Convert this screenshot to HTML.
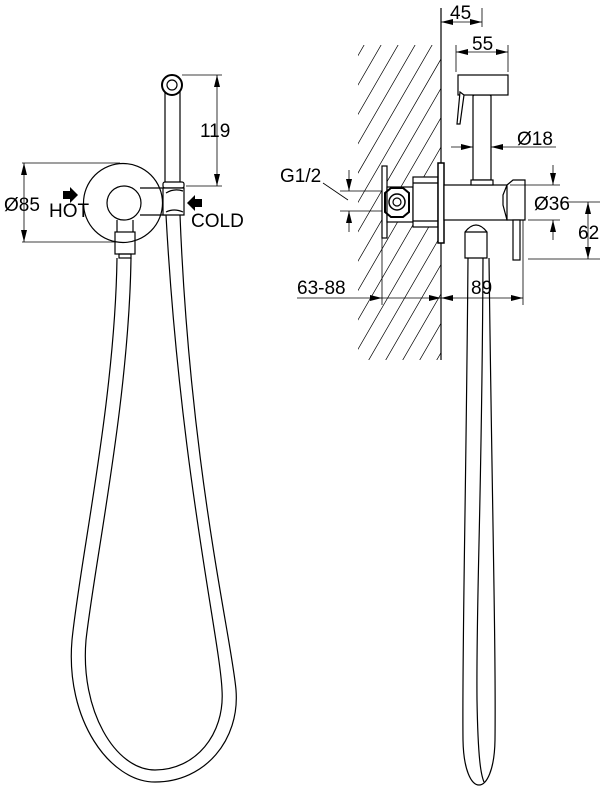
<!DOCTYPE html>
<html><head><meta charset="utf-8"><style>
html,body{margin:0;padding:0;background:#fff}
svg{display:block}
text{font-family:"Liberation Sans",sans-serif;font-size:19px;fill:#000}
</style></head><body>
<svg width="604" height="793" viewBox="0 0 604 793" xmlns="http://www.w3.org/2000/svg">
<defs>
<marker id="a" viewBox="0 0 12 6" refX="12" refY="3" markerWidth="12" markerHeight="6" markerUnits="userSpaceOnUse" orient="auto-start-reverse"><path d="M0,0 L12,3 L0,6z" fill="#000"/></marker>
<clipPath id="wall"><rect x="358" y="45" width="83" height="315"/></clipPath>
</defs>
<g fill="none" stroke="#000" stroke-width="1.2">
<circle cx="123" cy="203" r="39.5" fill="#fff"/>
<path d="M140,188 H165 M140,215 H165"/>
<circle cx="124" cy="203" r="17" fill="#fff"/>
<rect x="165" y="85" width="15" height="98" fill="#fff"/>
<circle cx="172" cy="85" r="10" fill="#fff" stroke-width="2"/>
<circle cx="172" cy="85" r="5"/>
<rect x="163" y="182" width="21" height="6" rx="2" fill="#fff"/>
<path d="M163,188 H184 V215 H163 Z" fill="#fff"/>
<path d="M166,193 Q174,188 183,191 M166,212 Q174,208 183,212"/>
<path d="M117,220 V232 M133,220 V232"/>
<rect x="115" y="232" width="20" height="22"/>
<rect x="119" y="254" width="12" height="4"/>
<path d="M117,258 C115,400 80,560 72,640 C65,720 110,782 155,782 C205,782 240,740 236,690 C232,640 190,470 180,215"/>
<path d="M131,258 C129,400 95,560 86,640 C80,710 115,770 155,770 C195,770 225,735 222,690 C220,640 180,470 166,215"/>
<g stroke-width="0.8">
<path d="M22,163 H120 M22,242 H118"/>
<path d="M24,163 V242" marker-start="url(#a)" marker-end="url(#a)"/>
<path d="M182,75 H222 M186,186 H222"/>
<path d="M217,75 V186" marker-start="url(#a)" marker-end="url(#a)"/>
</g>
<g clip-path="url(#wall)" stroke-width="0.7">
<path d="M300,420 L520,40 M317,420 L537,40 M334,420 L554,40 M351,420 L571,40 M368,420 L588,40 M385,420 L605,40 M402,420 L622,40 M419,420 L639,40 M436,420 L656,40 M453,420 L673,40 M470,420 L690,40 M487,420 L707,40 M504,420 L724,40 M283,420 L503,40 M266,420 L486,40 M249,420 L469,40 M232,420 L452,40 M215,420 L435,40 M198,420 L418,40 M181,420 L401,40 M164,420 L384,40 M147,420 L367,40 M130,420 L350,40 M113,420 L333,40 M96,420 L316,40"/>
</g>
<path d="M441,8 V360"/>
<rect x="382" y="166" width="5" height="72" fill="#fff"/>
<rect x="387" y="187" width="26" height="35" fill="#fff"/>
<path d="M385,193 L391,188 L403,188 L409,193 V212 L403,217 L391,217 L385,212 Z" stroke-width="2"/>
<circle cx="397" cy="202" r="8" stroke-width="1.5"/>
<circle cx="397" cy="202" r="4"/>
<rect x="413" y="177" width="25" height="50" fill="#fff"/>
<path d="M413,183 H438 M413,221 H438"/>
<rect x="438" y="163" width="6" height="80" fill="#fff" stroke-width="1.5"/>
<rect x="444" y="185" width="63" height="35" fill="#fff"/>
<path d="M507,185 L513,180 H525 V220 H507 Z M507,185 L503,195 V205 L507,220" fill="#fff"/>
<rect x="513" y="220" width="7" height="40" fill="#fff"/>
<path d="M465,258 V232 Q476,218 487,232 V258 Z" fill="#fff"/>
<path d="M465,232 H487"/>
<rect x="473" y="95" width="18" height="85" fill="#fff"/>
<path d="M473,96 Q482,86 491,96"/>
<rect x="471" y="180" width="22" height="5" fill="#fff"/>
<rect x="458" y="75" width="50" height="20" fill="#fff"/>
<path d="M460,92 L464,95 L460,124 L457,124 Z" fill="#fff"/>
<path d="M468,258 C466,500 462,650 463,740 C464,800 494,800 495,740 C496,650 492,500 489,258"/>
<path d="M483,258 C482,500 476,600 477,700 C478,760 481,775 484,782"/>
<g stroke-width="0.8">
<path d="M482,8 V27"/>
<path d="M441,22 H482" marker-start="url(#a)" marker-end="url(#a)"/>
<path d="M456,45 V72 M508,45 V72"/>
<path d="M456,52 H508" marker-start="url(#a)" marker-end="url(#a)"/>
<path d="M451,147 H473" marker-end="url(#a)"/>
<path d="M556,147 H491" marker-end="url(#a)"/>
<path d="M510,185 H560 M528,220 H560"/>
<path d="M553,165 V185" marker-end="url(#a)"/>
<path d="M553,240 V220" marker-end="url(#a)"/>
<path d="M560,202 H600 M528,259 H600"/>
<path d="M588,202 V259" marker-start="url(#a)" marker-end="url(#a)"/>
<path d="M340,191 H382 M340,211 H382"/>
<path d="M349,170 V191" marker-end="url(#a)"/>
<path d="M349,232 V211" marker-end="url(#a)"/>
<path d="M323,183 L348,200"/>
<path d="M382,238 V305 M523,220 V305"/>
<path d="M297,298 H382" marker-end="url(#a)"/>
<path d="M382,298 H441" marker-end="url(#a)"/>
<path d="M441,298 H523" marker-start="url(#a)" marker-end="url(#a)"/>
</g>
</g>
<path d="M63,191 H70 V187 L78,195 L70,203 V199 H63 Z" fill="#000"/>
<path d="M202,199 H195 V195 L187,203 L195,211 V207 H202 Z" fill="#000"/>
<text x="4" y="211">Ø85</text>
<text x="49" y="217" font-size="14">HOT</text>
<text x="191" y="227" font-size="14">COLD</text>
<text x="200" y="137">119</text>
<text x="450" y="19">45</text>
<text x="472" y="50">55</text>
<text x="517" y="145">Ø18</text>
<text x="534" y="210">Ø36</text>
<text x="578" y="239">62</text>
<text x="280" y="182">G1/2</text>
<text x="297" y="294">63-88</text>
<text x="471" y="294">89</text>
</svg>
</body></html>
